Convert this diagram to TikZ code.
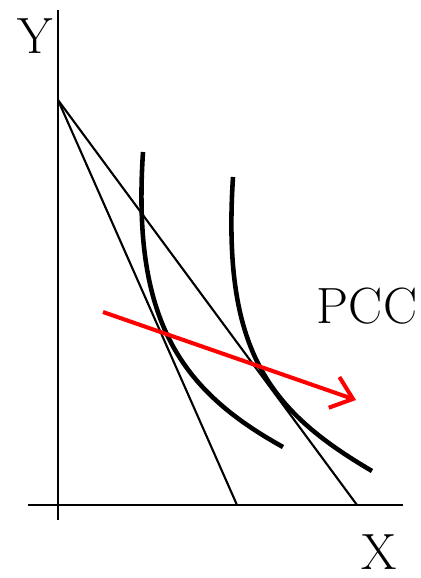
\documentclass[tikz,border=0pt]{standalone}
\usepackage{amsmath,amssymb}
\usepackage{tikz}
\usetikzlibrary{arrows.meta,calc}

\begin{document}
\begin{tikzpicture}[x=0.02cm, y=-0.02cm, line cap=butt, line join=round,
    >={Straight Barb[length=4mm, width=6.5mm]},
    axis/.style={line width=1.2pt},
    budget/.style={line width=1.2pt},
    icurve/.style={line width=2.6pt},
    lbl/.style={inner sep=0pt, font=\fontsize{29}{34}\selectfont}]
  \useasboundingbox (0,0) rectangle (420,578);

  % Axes
  \coordinate (O) at (58,505);
  \coordinate (ytop) at (58,10);
  \coordinate (ybot) at (58,520);
  \coordinate (xleft) at (28,505);
  \coordinate (xright) at (403,505);
  \draw[axis] (ybot) -- (ytop);
  \draw[axis] (xleft) -- (xright);
  \node[lbl] (ylab) at (35,36) {Y};
  \node[lbl] (xlab) at (379,552) {X};

  % Budget lines, pivoting on the intercept
  \coordinate (A) at (58,100);
  \coordinate (B1) at (237,505);
  \coordinate (B2) at (357,505);
  \draw[budget] (A) -- (B1);
  \draw[budget] (A) -- (B2);

  % Indifference curves
  \coordinate (U1s) at (143,152);
  \coordinate (U1e) at (283,447);
  \draw[icurve] (U1s) .. controls (132,320) and (180,390) .. (U1e);
  \coordinate (U2s) at (233,177);
  \coordinate (U2e) at (372,471);
  \draw[icurve] (U2s) .. controls (222,350) and (268,410) .. (U2e);

  % Price consumption curve
  \coordinate (P1) at (103,312);
  \coordinate (P2) at (356,400);
  \draw[->, red, line width=2.3pt] (P1) -- (P2);
  \node[lbl] (pcc) at (367,306) {PCC};
\end{tikzpicture}
\end{document}
